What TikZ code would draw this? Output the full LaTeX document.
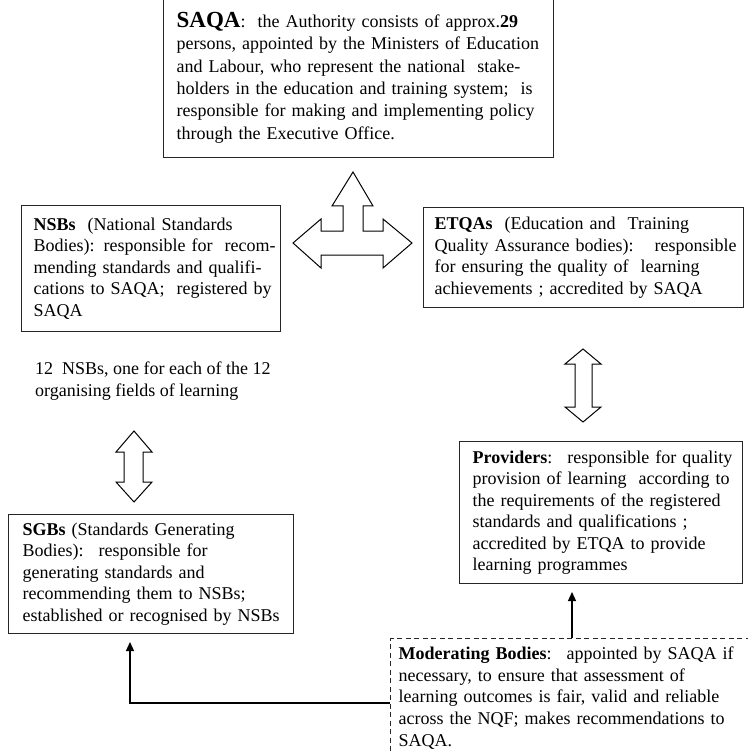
\documentclass[tikz,border=0pt]{standalone}
\usepackage{fontspec}
\setmainfont{Liberation Serif}
\usetikzlibrary{arrows.meta}
\newcommand\Lne[1]{\mbox{#1}}
\begin{document}
\begin{tikzpicture}[x=1pt,y=-1pt,
  box/.style={draw=black!85, line width=1.3pt, fill=white, anchor=north west, align=left,
    inner ysep=0pt, font=\fontsize{18}{21.5}\selectfont},
  plaintext/.style={anchor=north west, align=left, inner sep=0pt, font=\fontsize{18}{21.5}\selectfont},
  blockarrow/.style={draw=black, line width=1pt, fill=white, line join=miter},
  conn/.style={line width=1.3pt, -{Triangle[length=9pt,width=8pt]}},
]
\useasboundingbox (0,0) rectangle (747,751);

% SAQA
\node[box, minimum width=390pt, minimum height=160pt, text width=364pt, inner xsep=13pt,
  font=\fontsize{18}{22.4}\selectfont] (saqa) at (163,-3)
{\Lne{{\fontsize{23}{22.4}\selectfont\textbf{SAQA}}:~ the Authority consists of approx.\textbf{29}}\\
\Lne{persons, appointed by the Ministers of Education}\\
\Lne{and Labour, who represent the national~ stake-}\\
\Lne{holders in the education and training system;~ is}\\
\Lne{responsible for making and implementing policy}\\
\Lne{through the Executive Office.}};

% NSBs
\node[box, minimum width=259pt, minimum height=126pt, text width=235pt, inner xsep=12pt] (nsb) at (21,205)
{\Lne{\textbf{NSBs}~ (National Standards}\\
\Lne{Bodies): responsible for~ recom-}\\
\Lne{mending standards and qualifi-}\\
\Lne{cations to SAQA;~ registered by}\\
\Lne{SAQA}};

% ETQAs
\node[box, minimum width=320pt, minimum height=100pt, text width=298pt, inner xsep=11pt] (etqa) at (423,207)
{\Lne{\textbf{ETQAs}~ (Education and~ Training}\\
\Lne{Quality Assurance bodies):~~ responsible}\\
\Lne{for ensuring the quality of~ learning}\\
\Lne{achievements ; accredited by SAQA}};

% 12 NSBs text
\node[plaintext] (nsb12) at (35,362)
{\Lne{12~ NSBs, one for each of the 12}\\
\Lne{organising fields of learning}};

% SGBs
\node[box, minimum width=285pt, minimum height=119pt, text width=257pt, inner xsep=14pt] (sgb) at (8,514)
{\Lne{\textbf{SGBs} (Standards Generating}\\
\Lne{Bodies):~ responsible for}\\
\Lne{generating standards and}\\
\Lne{recommending them to NSBs;}\\
\Lne{established or recognised by NSBs}};

% Providers
\node[box, minimum width=283pt, minimum height=142pt, text width=257pt, inner xsep=13pt] (prov) at (459,441)
{\Lne{\textbf{Providers}:~ responsible for quality}\\
\Lne{provision of learning~ according to}\\
\Lne{the requirements of the registered}\\
\Lne{standards and qualifications ;}\\
\Lne{accredited by ETQA to provide}\\
\Lne{learning programmes}};

% Moderating Bodies (dashed)
\node[box, dashed, dash pattern=on 5pt off 3.5pt, minimum width=380pt, text width=364pt,
  inner xsep=8pt, inner ysep=8pt, font=\fontsize{18}{21.7}\selectfont] (mod) at (390,638)
{\Lne{\textbf{Moderating Bodies}:~ appointed by SAQA if}\\
\Lne{necessary, to ensure that assessment of}\\
\Lne{learning outcomes is fair, valid and reliable}\\
\Lne{across the NQF; makes recommendations to}\\
\Lne{SAQA.}};

% three-way block arrow
\draw[blockarrow] (353,172) -- (373,206) -- (363,206) -- (363,231) -- (383,231) -- (383,219)
  -- (412,243) -- (383,268) -- (383,255) -- (321,255) -- (321,268) -- (293,243)
  -- (321,219) -- (321,231) -- (343,231) -- (343,206) -- (332,206) -- cycle;

% right double arrow
\draw[blockarrow] (583,349) -- (601,364) -- (592,364) -- (592,407) -- (601,407) -- (583,422)
  -- (565,407) -- (575,407) -- (575,364) -- (565,364) -- cycle;

% left double arrow
\draw[blockarrow] (134,431) -- (152,452) -- (143,452) -- (143,482) -- (152,482) -- (134,502)
  -- (116,482) -- (124,482) -- (124,452) -- (116,452) -- cycle;

% connectors
\coordinate (sgbtip) at (130,642);
\coordinate (modrow) at (0,703);
\draw[conn] (mod.west |- modrow) -| (sgbtip);
\coordinate (provtip) at (572,592);
\draw[conn] (mod.north -| provtip) -- (provtip);
\end{tikzpicture}
\end{document}
